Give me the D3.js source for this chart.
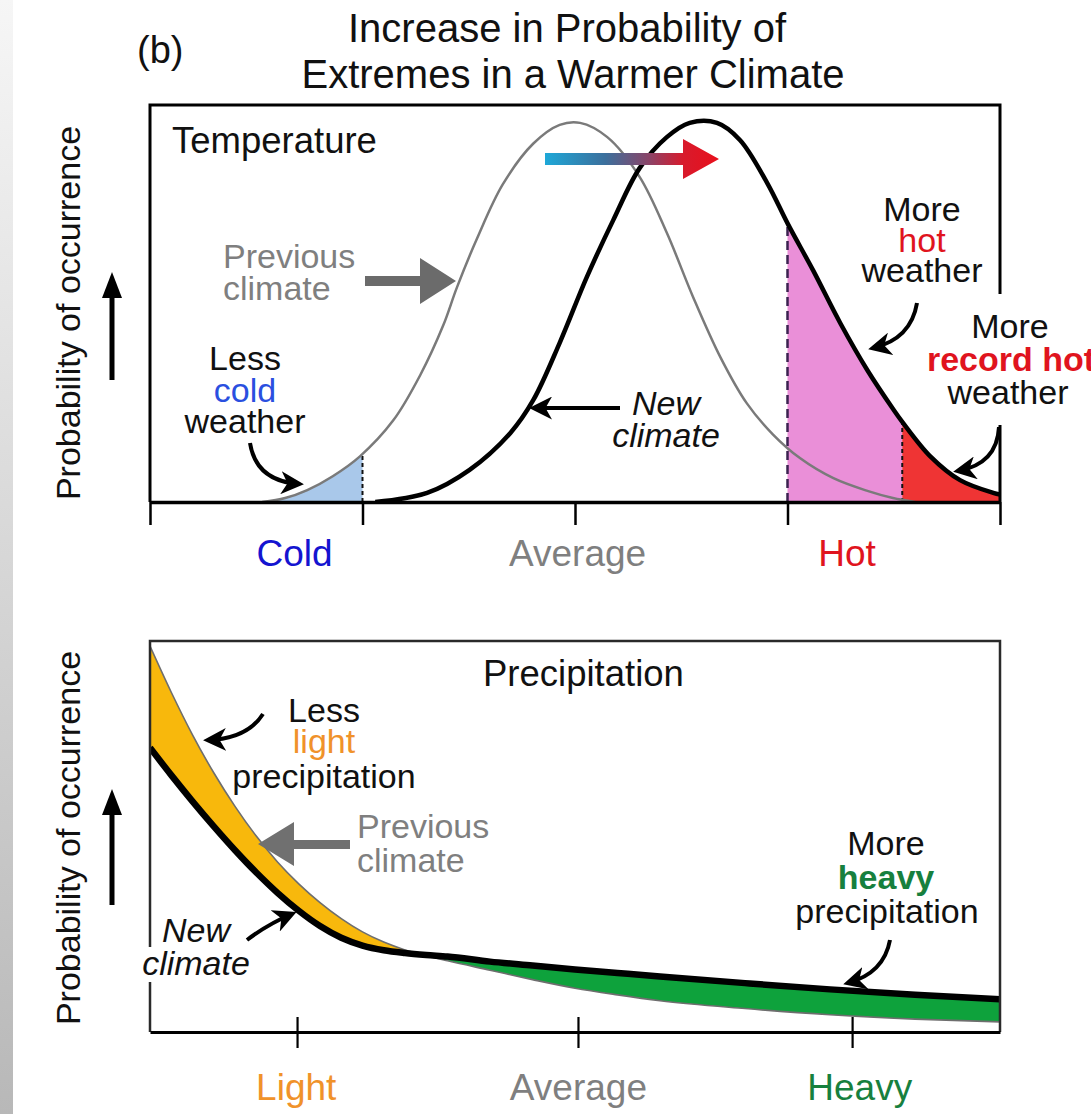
<!DOCTYPE html>
<html><head><meta charset="utf-8">
<script src="https://cdn.jsdelivr.net/npm/d3@7"></script>
<style>
body{margin:0;background:#fff}
svg{display:block}
text{font-family:"Liberation Sans", Arial, Helvetica, sans-serif}
</style>
</head><body>
<svg id="chart" width="1091" height="1114"></svg>
<script>
// ================= DATA =================
const titleLines = ["Increase in Probability of", "Extremes in a Warmer Climate"];
const panelLabel = "(b)";
const yAxisLabel = "Probability of occurrence";

// Temperature panel
const tempTicks = [0, 25, 50, 75, 100];
const tempCategories = ["Cold", "Average", "Hot"];
const tempCategoryAt = [17, 50.3, 82];
const tempThresholds = [25, 75, 88.5];            // cold limit, hot limit, record-hot limit
const tempPrevX = [13.2, 15.9, 18.5, 21.5, 24.7, 28.6, 31.8, 34.5, 36.1, 38.5, 41.5, 45.1, 48.2, 50.6, 53.8, 57.6, 60.8, 63.9, 67.1, 70.2, 73.3, 76.5, 80.4, 84.4, 87.4, 90];
const tempPrevY = [0, 1.0, 3.0, 6.5, 11.5, 20.5, 32, 44.5, 54, 66.5, 80, 90.3, 95.0, 95.5, 91.9, 81.9, 67.8, 51.6, 36.5, 24.9, 17.0, 11.0, 6.0, 2.8, 1.0, 0];
const tempNewX = [26.5, 32.6, 37.6, 42.4, 45.1, 48.2, 51.4, 54.5, 57.6, 60.8, 63.5, 66.7, 69.4, 72.6, 75.1, 78, 81.2, 84.4, 87.4, 88.5, 91.8, 95.3, 99.2, 100];
const tempNewY = [0, 2.3, 8.1, 17.4, 25.7, 40.1, 56.7, 71.0, 84.1, 91.9, 95.5, 95.5, 91.2, 80.4, 69.8, 58.4, 45.1, 33.2, 23.5, 20.2, 11.5, 5.5, 2.3, 1.9];

// Precipitation panel
const precipTicks = [17.3, 50.35, 82.6];
const precipCategories = ["Light", "Average", "Heavy"];
const precipCategoryAt = [17.2, 50.4, 83.5];
const precipX    = [0, 2.5, 5, 7.5, 10, 12.5, 15, 17.5, 20, 22.5, 25, 27.5, 30, 32.5, 35, 40, 45, 50, 55, 60, 70, 80, 90, 100];
const precipPrev = [98.7, 86.9, 76.0, 66.3, 57.7, 50.1, 43.5, 37.9, 33.1, 29.0, 25.6, 23.0, 21.0, 19.5, 18.2, 15.8, 13.4, 11.2, 9.5, 8.0, 6.0, 4.4, 3.3, 2.6];
const precipNew  = [72.7, 65.7, 59.0, 52.6, 46.5, 40.8, 35.6, 31.0, 27.1, 24.1, 22.1, 20.9, 20.2, 19.7, 19.3, 18.0, 17.0, 16.0, 15.1, 14.2, 12.5, 10.9, 9.5, 8.4];

// ================= DRAWING =================
const svg = d3.select("#chart");
const defs = svg.append("defs");

// page edge shading
const eg = defs.append("linearGradient").attr("id","edge").attr("x1",0).attr("y1",0).attr("x2",0).attr("y2",1);
eg.append("stop").attr("offset","0").attr("stop-color","#f6f6f6");
eg.append("stop").attr("offset","1").attr("stop-color","#b8b8b8");
svg.append("rect").attr("x",0).attr("y",0).attr("width",13).attr("height",1114).attr("fill","url(#edge)");

// arrow marker
defs.append("marker").attr("id","ah").attr("viewBox","0 0 14 14").attr("refX",11).attr("refY",7)
  .attr("markerWidth",23).attr("markerHeight",23).attr("markerUnits","userSpaceOnUse").attr("orient","auto")
  .append("path").attr("d","M0,0 L14,7 L0,14 L4,7 Z").attr("fill","#000");

// Titles
svg.append("text").attr("x",137).attr("y",63).attr("font-size",38).attr("fill","#111").text(panelLabel);
svg.append("text").attr("x",567).attr("y",42).attr("text-anchor","middle").attr("font-size",40).attr("fill","#111").text(titleLines[0]);
svg.append("text").attr("x",573).attr("y",88).attr("text-anchor","middle").attr("font-size",40).attr("fill","#111").text(titleLines[1]);

function label(x, y, str, opts = {}) {
  return svg.append("text").attr("x",x).attr("y",y)
    .attr("text-anchor", opts.anchor || "middle")
    .attr("font-size", opts.size || 34)
    .attr("font-weight", opts.weight || "normal")
    .attr("font-style", opts.style || "normal")
    .attr("fill", opts.fill || "#111")
    .text(str);
}
function curvedArrow(d) {
  svg.append("path").attr("d", d).attr("fill","none").attr("stroke","#000")
    .attr("stroke-width",4).attr("marker-end","url(#ah)");
}

// ---------- TEMPERATURE PANEL ----------
const xT = d3.scaleLinear().domain([0,100]).range([150,1000]);
const yT = d3.scaleLinear().domain([0,100]).range([502,105]);
const prevT = tempPrevX.map((x,i)=>({x, y: tempPrevY[i]}));
const newT = tempNewX.map((x,i)=>({x, y: tempNewY[i]}));
const curve = d3.curveCatmullRom.alpha(0.5);
const lineT = d3.line().x(d=>xT(d.x)).y(d=>yT(d.y)).curve(curve);
const areaT = d3.area().x(d=>xT(d.x)).y0(yT(0)).y1(d=>yT(d.y)).curve(curve);

function clipRect(id, x0, x1, y0, y1) {
  defs.append("clipPath").attr("id",id).append("rect")
    .attr("x",x0).attr("y",y0).attr("width",x1-x0).attr("height",y1-y0);
}
clipRect("cBlue", xT(0), xT(tempThresholds[0]), 100, 502);
clipRect("cPink", xT(tempThresholds[1]), xT(tempThresholds[2]), 100, 502);
clipRect("cRed",  xT(tempThresholds[2]), xT(100), 100, 502);
clipRect("cTop",  xT(0), xT(100), 100, 502);
defs.append("clipPath").attr("id","underPrev").append("path").attr("d", areaT(prevT));
defs.append("clipPath").attr("id","underNew").append("path").attr("d", areaT(newT));

svg.append("path").attr("d", areaT(prevT)).attr("fill","#a9c8ea").attr("clip-path","url(#cBlue)");
svg.append("path").attr("d", areaT(newT)).attr("fill","#ea8fd8").attr("clip-path","url(#cPink)");
svg.append("path").attr("d", areaT(newT)).attr("fill","#ef3434").attr("clip-path","url(#cRed)");

svg.append("g").attr("clip-path","url(#underPrev)").append("line")
  .attr("x1",xT(tempThresholds[0])).attr("x2",xT(tempThresholds[0])).attr("y1",502).attr("y2",105)
  .attr("stroke","#111").attr("stroke-width",2).attr("stroke-dasharray","4,3");
svg.append("g").attr("clip-path","url(#underNew)").append("line")
  .attr("x1",xT(tempThresholds[1])).attr("x2",xT(tempThresholds[1])).attr("y1",502).attr("y2",105)
  .attr("stroke","#3b2250").attr("stroke-width",2.5).attr("stroke-dasharray","9,5");
svg.append("g").attr("clip-path","url(#underNew)").append("line")
  .attr("x1",xT(tempThresholds[2])).attr("x2",xT(tempThresholds[2])).attr("y1",502).attr("y2",105)
  .attr("stroke","#111").attr("stroke-width",2).attr("stroke-dasharray","4,3");

const gCurvesT = svg.append("g").attr("clip-path","url(#cTop)");
gCurvesT.append("path").attr("d", lineT(prevT)).attr("fill","none").attr("stroke","#7a7a7a").attr("stroke-width",2.5);
gCurvesT.append("path").attr("d", lineT(newT)).attr("fill","none").attr("stroke","#000").attr("stroke-width",4.5);

svg.append("path").attr("d",`M${xT(0)},502 V105 H${xT(100)} V502`).attr("fill","none").attr("stroke","#000").attr("stroke-width",3);
const axT = svg.append("g").attr("transform","translate(0,502)")
  .call(d3.axisBottom(xT).tickValues(tempTicks).tickSize(23).tickSizeOuter(0).tickFormat(""));
axT.select(".domain").attr("stroke","#000").attr("stroke-width",3.5);
axT.selectAll(".tick line").attr("stroke","#000").attr("stroke-width",2.5);

const tempColors = ["#1414d0", "#7f7f7f", "#e0141e"];
tempCategories.forEach((c,i)=> label(xT(tempCategoryAt[i]), 566, c, {size:37, fill: tempColors[i]}));

// warming arrow
const ga = defs.append("linearGradient").attr("id","warm").attr("gradientUnits","userSpaceOnUse")
  .attr("x1",545).attr("x2",718).attr("y1",0).attr("y2",0);
ga.append("stop").attr("offset","0").attr("stop-color","#1ea8d8");
ga.append("stop").attr("offset","0.35").attr("stop-color","#3c6f9c");
ga.append("stop").attr("offset","0.6").attr("stop-color","#8a4468");
ga.append("stop").attr("offset","0.8").attr("stop-color","#d81a2c");
ga.append("stop").attr("offset","1").attr("stop-color","#e8101c");
svg.append("path").attr("d","M545,153 H683 V139 L719,159 L683,179 V165 H545 Z").attr("fill","url(#warm)");

label(172, 153, "Temperature", {anchor:"start", size:36.5});
label(223, 268, "Previous", {anchor:"start", fill:"#7f7f7f"});
label(223, 300, "climate", {anchor:"start", fill:"#7f7f7f"});
svg.append("path").attr("d","M365,276 H420 V258 L456,281 L420,304 V286 H365 Z").attr("fill","#6b6b6b");

label(245, 370, "Less");
label(245, 402, "cold", {fill:"#2a4fe0"});
label(245, 433, "weather");
curvedArrow("M250,443 Q256,481 299,484");

label(666, 415, "New", {style:"italic"});
label(666, 447, "climate", {style:"italic"});
curvedArrow("M620,408 H534");

label(922, 221, "More");
label(922, 252, "hot", {fill:"#e0141e"});
label(922, 282, "weather");
curvedArrow("M917,303 Q911,339 873,348");

svg.append("rect").attr("x",985).attr("y",294).attr("width",30).attr("height",131).attr("fill","#fff");
label(1010, 338, "More");
label(1011, 371, "record hot", {weight:"bold", fill:"#e0141e"});
label(1008, 404, "weather");
curvedArrow("M999,427 Q997,464 958,471");

// ---------- PRECIPITATION PANEL ----------
const xP = d3.scaleLinear().domain([0,100]).range([150,1000]);
const yP = d3.scaleLinear().domain([0,100]).range([1032,641]);
const P = precipX.map((x,i)=>({x, prev: precipPrev[i], nw: precipNew[i]}));
const pc = d3.curveMonotoneX;
const areaOrange = d3.area().x(d=>xP(d.x)).y0(d=>yP(d.nw)).y1(d=>yP(Math.max(d.prev,d.nw))).curve(pc);
const areaGreen  = d3.area().x(d=>xP(d.x)).y0(d=>yP(d.prev)).y1(d=>yP(Math.max(d.prev,d.nw))).curve(pc);
const linePrev = d3.line().x(d=>xP(d.x)).y(d=>yP(d.prev)).curve(pc);
const lineNew  = d3.line().x(d=>xP(d.x)).y(d=>yP(d.nw)).curve(pc);
clipRect("cBot", xP(0), xP(100), 641, 1032);
const gP = svg.append("g").attr("clip-path","url(#cBot)");
gP.append("path").attr("d", areaOrange(P)).attr("fill","#f8b80c");
gP.append("path").attr("d", areaGreen(P)).attr("fill","#0ea23c");
gP.append("path").attr("d", linePrev(P)).attr("fill","none").attr("stroke","#6e6e6e").attr("stroke-width",1.6);
gP.append("path").attr("d", lineNew(P)).attr("fill","none").attr("stroke","#000").attr("stroke-width",6.5);

svg.append("path").attr("d",`M${xP(0)},1032 V641 H${xP(100)} V1032`).attr("fill","none").attr("stroke","#2a2a2a").attr("stroke-width",2.5);
const axP = svg.append("g").attr("transform","translate(0,1032)")
  .call(d3.axisBottom(xP).tickValues(precipTicks).tickSize(16).tickSizeOuter(0).tickFormat(""));
axP.select(".domain").attr("stroke","#000").attr("stroke-width",3);
axP.selectAll(".tick line").attr("stroke","#000").attr("stroke-width",2.2);
const axP2 = svg.append("g").attr("transform","translate(0,1032)")
  .call(d3.axisTop(xP).tickValues(precipTicks).tickSize(15).tickSizeOuter(0).tickFormat(""));
axP2.select(".domain").remove();
axP2.selectAll(".tick line").attr("stroke","#000").attr("stroke-width",2.2);

const precipColors = ["#f0922a", "#7f7f7f", "#17803e"];
precipCategories.forEach((c,i)=> label(xP(precipCategoryAt[i]), 1100, c, {size:37, fill: precipColors[i]}));

label(483, 686, "Precipitation", {anchor:"start", size:36.5});
label(324, 722, "Less");
label(324, 753, "light", {fill:"#f0922a"});
label(324, 788, "precipitation");
curvedArrow("M263,714 Q247,739 208,740");

label(357, 838, "Previous", {anchor:"start", fill:"#7f7f7f"});
label(357, 872, "climate", {anchor:"start", fill:"#7f7f7f"});
svg.append("path").attr("d","M350,840 H294 V822 L258,844 L294,866 V849 H350 Z").attr("fill","#707070");

svg.append("rect").attr("x",140).attr("y",947).attr("width",20).attr("height",35).attr("fill","#fff");
label(196, 942, "New", {style:"italic"});
label(196, 975, "climate", {style:"italic"});
curvedArrow("M247,940 Q268,924 292,914");

label(886, 855, "More");
label(886, 889, "heavy", {weight:"bold", fill:"#17803e"});
label(887, 923, "precipitation");
curvedArrow("M890,940 Q884,973 848,983");

// ---------- Y AXIS LABELS + ARROWS ----------
[[313, 380, 272], [838, 905, 789]].forEach(([cy, yb, yt])=>{
  svg.append("text").attr("transform",`translate(80,${cy}) rotate(-90)`).attr("text-anchor","middle")
    .attr("font-size",34).attr("fill","#111").text(yAxisLabel);
  svg.append("line").attr("x1",112).attr("x2",112).attr("y1",yb).attr("y2",yt+20).attr("stroke","#000").attr("stroke-width",5);
  svg.append("path").attr("d",`M102,${yt+26} L112,${yt} L122,${yt+26} Z`).attr("fill","#000");
});
</script>
</body></html>
